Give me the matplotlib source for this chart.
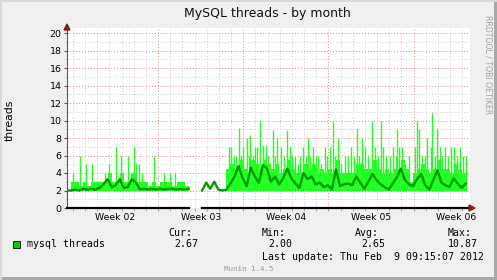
import matplotlib
matplotlib.use('Agg')
import matplotlib.pyplot as plt
import matplotlib.transforms as mtransforms
from matplotlib.patches import Rectangle, Polygon
import numpy as np

W, H = 497, 280
DAY_STEP = 1 / 3.0     # one sample every 8 hours

# first block (before the hole), starts at day 0
avg_a = [2.0, 2.0, 2.1, 2.0, 2.2, 2.1, 2.2, 2.1, 2.3, 2.7,
         3.3, 2.4, 2.6, 3.3, 2.3, 2.4, 3.3, 2.9, 2.1, 2.2,
         2.1, 2.2, 2.1, 2.2, 2.1, 2.2, 2.2, 2.1, 2.2, 2.1, 2.2]
top_a = [2, 3, 3, 2.5, 3, 2.5, 3, 3, 3, 3,
         4, 3, 3, 4, 3, 3, 4, 3, 3, 3,
         2.5, 3, 2.5, 3, 3, 3, 2.5, 3, 3, 2.5, 3]
low_a = 1.9

# second block, starts at day 11.1
start_b = 11.1
avg_b = [2.0, 2.9, 2.2, 3.0, 2.1, 2.0,
         2.1, 2.8, 3.6, 4.8, 3.4, 2.5, 4.6, 3.6, 2.9, 4.9,
         4.5, 3.0, 3.6, 2.7, 3.4, 4.5, 3.4, 2.8, 2.3, 4.0,
         3.3, 3.6, 2.7, 2.9, 2.4, 2.6, 2.1, 4.4, 2.5, 2.7,
         2.8, 2.6, 3.6, 2.9, 2.2, 3.0, 3.9, 3.2, 2.7, 2.4,
         2.1, 2.8, 3.5, 4.5, 3.2, 2.7, 2.5, 3.3, 3.9, 2.6,
         2.1, 3.2, 4.3, 2.9, 2.6, 2.4, 3.4, 2.8, 2.3, 2.8]
top_b = [2.0, 2.0, 2.0, 2.0, 2.0, 2.0,
         4.5, 5, 4.5, 5.5, 4.5, 4, 5.5, 5, 4.5, 5.5,
         5, 4.5, 5, 4, 4.5, 5.5, 4.5, 4, 4, 5,
         4.5, 5, 4, 4.5, 4, 4.5, 4, 5.5, 4, 4,
         4, 4, 5, 5, 4.5, 4.5, 5.5, 4.5, 4, 4.5,
         4, 4.5, 4.5, 5.5, 4.5, 3, 4, 4.5, 5, 4.5,
         4, 4.5, 5.5, 4.5, 4.5, 4, 5, 4.5, 4, 4.5]
low_b = 1.9

# single sample peaks (day, threads)
spike_days = [0.47, 1.09, 1.54, 2.08, 3.12, 3.45, 4.05, 4.41, 5.04, 5.26,
              5.48, 5.63, 5.94, 6.14, 7.17, 7.97, 8.46, 8.87,
              13.31, 13.48, 13.72, 14.11, 14.46, 14.79, 15.04, 15.45, 15.86, 16.11,
              16.35, 16.90, 17.28, 17.58, 18.05, 18.73, 19.15, 19.39, 19.78, 20.21,
              20.62, 21.20, 21.83, 22.29, 22.84, 23.80, 24.26, 24.49, 25.04, 25.80,
              26.21, 26.79, 27.14, 27.53, 28.78, 28.92, 29.61, 30.02, 30.38, 30.65,
              31.06, 31.55, 32.29, 32.76,
              13.9, 14.3, 14.95, 15.3, 15.65, 16.55, 17.1, 17.8, 18.3, 18.45,
              19.0, 19.6, 20.0, 20.45, 20.9, 21.4, 21.65, 22.05, 22.55, 23.1,
              23.35, 23.6, 24.0, 24.75, 25.3, 25.55, 26.0, 26.5, 27.0, 27.3,
              27.8, 28.1, 28.6, 29.2, 29.4, 29.9, 30.2, 30.85, 31.3, 31.8,
              32.05, 32.5]
spike_vals = [4, 6, 5, 5, 4, 5, 7, 6, 6, 4,
              7, 5, 5, 4, 6, 4, 4, 4,
              7, 7, 6, 9.1, 7, 8, 8.3, 7, 10.1, 7.2,
              7.2, 8.9, 8, 7, 8.9, 6, 6, 7, 8, 7,
              6, 7, 10, 8, 6, 9, 8, 7, 10, 10,
              6, 7, 9, 7, 10, 9, 8, 10.87, 9, 7,
              7, 7, 7, 5.9,
              6, 6, 6, 6, 7, 6, 6, 6, 7, 6,
              5, 6, 6, 6, 5, 6, 7, 6, 5, 6,
              7, 6, 6, 6, 7, 6, 7, 6, 6, 7,
              5, 6, 7, 6, 6, 7, 6, 6, 6, 7,
              6, 6]

week_starts = [7.48, 14.48, 21.48, 28.48]
week_labels = ['Week 02', 'Week 03', 'Week 04', 'Week 05', 'Week 06']

stats_names = ['Cur:', 'Min:', 'Avg:', 'Max:']
stats_vals = [2.67, 2.00, 2.65, 10.87]

BG = '#f0f0f0'
FILL = '#22ff22'
LINE = '#009a00'
RED = '#8b1a1a'

fig = plt.figure(figsize=(W / 100, H / 100), dpi=100, facecolor=BG)

def fx(px):
    return px / W

def fy(py):
    return 1 - py / H

# plot area: x 67..470, y 28..208 (pixels)
ax = fig.add_axes([fx(67), fy(208), fx(470) - fx(67), fy(28) - fy(208)])
ax.set_facecolor('white')
px_per_day = 12.17
ax.set_xlim(0, (470 - 67) / px_per_day)
ax.set_ylim(0, (208 - 28) / 8.75)

for s in ['top', 'right', 'bottom']:
    ax.spines[s].set_visible(False)
ax.spines['left'].set_color('#555555')
ax.spines['left'].set_linewidth(0.8)

ax.set_xticks(week_starts)
ax.set_xticks(np.arange(0.48, 33, 1.0), minor=True)
ax.set_yticks(np.arange(0, 21, 2))
ax.set_yticks(np.arange(1, 20, 2), minor=True)
ax.tick_params(axis='x', which='both', labelbottom=False, length=2, color='#999999')
ax.tick_params(axis='y', which='major', length=2, color='#555555', labelsize=6.8, pad=2)
ax.tick_params(axis='y', which='minor', length=1, color='#999999')
ax.grid(which='minor', color='#cccccc', linestyle=(0, (1, 2)), linewidth=0.7)
ax.grid(which='major', color='#f08080', linestyle=(0, (1, 2)), linewidth=0.7)
ax.set_axisbelow(True)

x_a = np.arange(len(avg_a)) * DAY_STEP
x_b = start_b + np.arange(len(avg_b)) * DAY_STEP

ax.fill_between(x_a, low_a, top_a, step='post', color=FILL, linewidth=0, zorder=3)
ax.fill_between(x_b, low_b, top_b, step='post', color=FILL, linewidth=0, zorder=3)
ax.vlines(spike_days, 1.9, spike_vals, color=FILL, linewidth=1.0, zorder=3)
ax.plot(x_a, avg_a, color=LINE, linewidth=1.7, zorder=4)
ax.plot(x_b, avg_b, color=LINE, linewidth=1.7, zorder=4)

# zero line where there is data
ax.plot([x_a[0], x_a[-1]], [0, 0], color='black', linewidth=1.6, zorder=5, clip_on=False)
ax.plot([x_b[0], x_b[-1] + DAY_STEP], [0, 0], color='black', linewidth=1.6, zorder=5, clip_on=False)

trans = mtransforms.blended_transform_factory(ax.transData, fig.transFigure)
for i, lab in enumerate(week_labels):
    ax.text(week_starts[0] - 3.5 + 7 * i, fy(217), lab, transform=trans,
            ha='center', va='center', fontsize=6.7, family='DejaVu Sans')

fig.text(fx(10), fy(120), 'threads', rotation=90, ha='center', va='center',
         fontsize=7.8, family='DejaVu Sans')

# arrows
fig.add_artist(Polygon([[fx(67), fy(24)], [fx(64), fy(30)], [fx(70), fy(30)]],
                       closed=True, color=RED, transform=fig.transFigure))
fig.add_artist(Polygon([[fx(475), fy(208)], [fx(469), fy(205)], [fx(469), fy(211)]],
                       closed=True, color=RED, transform=fig.transFigure))

# title and side text
fig.text(fx(267), fy(13), 'MySQL threads - by month', ha='center', va='center',
         fontsize=9, family='DejaVu Sans', color='#111111')
fig.text(fx(488), fy(15), 'RRDTOOL / TOBI OETIKER', ha='center', va='top',
         rotation=270, fontsize=5.6, family='DejaVu Sans', color='#a0a0a0')

# legend block
mono = 'DejaVu Sans Mono'
stat_x = [168, 262, 355, 448]
val_x = [174, 268, 361, 448]
for sx, vx, name, v in zip(stat_x, val_x, stats_names, stats_vals):
    fig.text(fx(sx), fy(233), name, ha='left', va='center', fontsize=7.1, family=mono)
    fig.text(fx(vx), fy(244), '%.2f' % v, ha='left', va='center', fontsize=7.1, family=mono)
fig.add_artist(Rectangle((fx(13), fy(248)), fx(7), 7 / H, facecolor='#00cc00',
                         edgecolor='black', linewidth=0.6, transform=fig.transFigure))
fig.text(fx(27), fy(244), 'mysql threads', ha='left', va='center', fontsize=7.1, family=mono)
fig.text(fx(262), fy(256.5), 'Last update: Thu Feb  9 09:15:07 2012', ha='left',
         va='center', fontsize=7.1, family=mono)
fig.text(fx(249), fy(269), 'Munin 1.4.5', ha='center', va='center', fontsize=5.4,
         family=mono, color='#999999')

# frame
fig.add_artist(Rectangle((fx(494), 0), fx(3), 1, facecolor='#a8a8a8', edgecolor='none',
                         transform=fig.transFigure))
fig.add_artist(Rectangle((0, 0), 1, 3 / H, facecolor='#a8a8a8', edgecolor='none',
                         transform=fig.transFigure))
fig.add_artist(Rectangle((0, 0), fx(2), 1, facecolor='#d8d8d8', edgecolor='none',
                         transform=fig.transFigure))
fig.add_artist(Rectangle((0, 1 - 2 / H), 1, 2 / H, facecolor='#d8d8d8', edgecolor='none',
                         transform=fig.transFigure))

fig.savefig('out.png', dpi=100, facecolor=BG)
